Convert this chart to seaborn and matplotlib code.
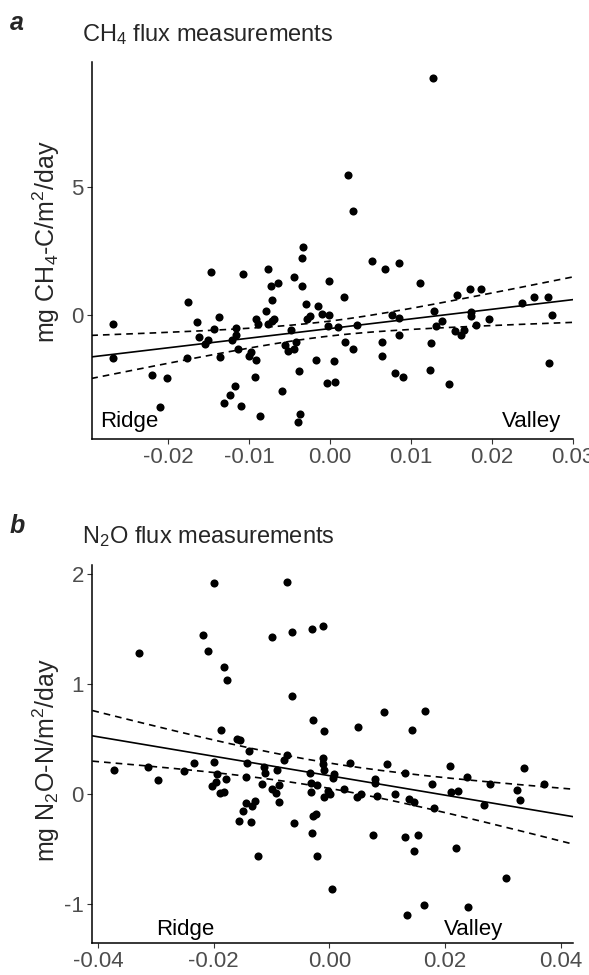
import numpy as np
import pandas as pd
import matplotlib
matplotlib.use("Agg")
import matplotlib.pyplot as plt
import seaborn as sns

# ---------------- data ----------------
ch4_x = [-0.0268, -0.0268, -0.0220, -0.0201, -0.0210, -0.0176, -0.0177, -0.0164, -0.0162, -0.0155,
         -0.0151, -0.0143, -0.0137, -0.0136, -0.0131, -0.0123, -0.0117, -0.0110, -0.0116, -0.0116,
         -0.0121, -0.0114, -0.0100, -0.0098, -0.0091, -0.0093, -0.0087, -0.0091, -0.0089, -0.0079,
         -0.0072, -0.0077, -0.0072, -0.0069, -0.0059, -0.0056, -0.0052, -0.0045, -0.0042, -0.0048,
         -0.0038, -0.0037, -0.0040, -0.0029, -0.0024, -0.0028, -0.0015, -0.0010, -0.0001, -0.0002,
         0.0010, -0.0017, 0.0005, -0.0003, 0.0006, 0.0019, 0.0028, 0.0033, 0.0018, 0.0065,
         0.0065, 0.0077, 0.0086, 0.0086, 0.0081, 0.0090, 0.0125, 0.0124, 0.0129, 0.0131,
         0.0139, 0.0147, 0.0157, 0.0155, 0.0162, 0.0166, 0.0174, 0.0175, 0.0180, 0.0197,
         0.0237, 0.0252, 0.0269, 0.0275, 0.0271, 0.0022, 0.0029, -0.0033, -0.0035, -0.0147,
         -0.0107, -0.0076, -0.0073, -0.0064, -0.0044, -0.0034, -0.0001, 0.0052, 0.0068, 0.0085,
         0.0111, 0.0173, 0.0187, 0.0128]
ch4_y = [-0.32, -1.65, -2.33, -2.44, -3.58, 0.54, -1.67, -0.25, -0.84, -1.10,
         -0.97, -0.54, -0.05, -1.61, -3.40, -3.11, -2.75, -3.54, -0.48, -0.77,
         -0.97, -1.30, -1.58, -1.41, -1.75, -2.40, -3.94, -0.13, -0.35, 0.17,
         0.60, -0.35, -0.22, -0.13, -2.95, -1.16, -1.39, -1.30, -1.04, -0.57,
         -2.18, -3.84, -4.15, 0.43, -0.03, -0.16, 0.36, 0.07, 0.01, -0.42,
         -0.44, -1.74, -1.78, -2.62, -2.60, -1.02, -1.32, -0.36, 0.70, -1.02,
         -1.58, 0.00, -0.12, -0.78, -2.23, -2.39, -1.06, -2.14, 0.16, -0.42,
         -0.23, -2.67, 0.79, -0.60, -0.77, -0.57, 0.13, -0.03, -0.38, -0.14,
         0.48, 0.70, 0.73, 0.03, -1.86, 5.46, 4.06, 2.66, 2.22, 1.68,
         1.60, 1.82, 1.13, 1.25, 1.51, 1.14, 1.33, 2.14, 1.79, 2.05,
         1.25, 1.04, 1.04, 9.25]

n2o_x = [-0.0330, -0.0218, -0.0210, -0.0183, -0.0177, -0.0100, -0.0064, -0.0031, -0.0065, -0.0028,
         -0.0009, 0.0050, 0.0095, 0.0165, 0.0143, -0.0187, -0.0160, -0.0155, -0.0139, -0.0372,
         -0.0314, -0.0296, -0.0251, -0.0234, -0.0199, -0.0195, -0.0179, -0.0197, -0.0203, -0.0190,
         -0.0183, -0.0142, -0.0145, -0.0114, -0.0111, -0.0117, -0.0090, -0.0078, -0.0073, -0.0100,
         -0.0088, -0.0093, -0.0088, -0.0033, -0.0032, -0.0022, -0.0032, -0.0011, -0.0011, -0.0009,
         0.0008, 0.0007, -0.0009, -0.0002, 0.0001, 0.0026, 0.0035, 0.0047, 0.0055, 0.0078,
         0.0079, 0.0082, 0.0099, 0.0113, 0.0130, 0.0138, 0.0146, 0.0177, 0.0181, 0.0209,
         0.0211, 0.0223, 0.0238, 0.0267, 0.0278, 0.0324, 0.0329, 0.0336, 0.0371, -0.0145,
         -0.0129, -0.0134, -0.0150, -0.0156, -0.0135, -0.0123, -0.0062, -0.0031, -0.0028, -0.0023,
         -0.0022, 0.0004, 0.0076, 0.0131, 0.0154, 0.0146, 0.0135, 0.0163, 0.0219, 0.0239,
         0.0305, -0.0200, -0.0073, -0.0011]
n2o_y = [1.28, 1.45, 1.30, 1.16, 1.04, 1.43, 1.47, 1.50, 0.89, 0.67,
         0.57, 0.61, 0.75, 0.76, 0.58, 0.58, 0.50, 0.49, 0.39, 0.22,
         0.25, 0.13, 0.21, 0.28, 0.29, 0.18, 0.14, 0.11, 0.07, 0.01,
         0.02, 0.28, 0.16, 0.25, 0.19, 0.09, 0.22, 0.31, 0.36, 0.05,
         0.08, 0.01, -0.07, 0.19, 0.10, 0.08, 0.02, 0.33, 0.27, 0.22,
         0.18, 0.15, -0.03, 0.03, 0.00, 0.05, 0.28, -0.03, 0.00, 0.14,
         0.10, -0.02, 0.27, 0.00, 0.19, -0.04, -0.07, 0.09, -0.13, 0.26,
         0.02, 0.03, 0.16, -0.10, 0.09, 0.04, -0.05, 0.24, 0.09, -0.08,
         -0.06, -0.11, -0.15, -0.24, -0.25, -0.56, -0.26, -0.35, -0.20, -0.18,
         -0.56, -0.86, -0.37, -0.39, -0.37, -0.52, -1.10, -1.01, -0.49, -1.03,
         -0.76, 1.92, 1.93, 1.53]

# fitted trend lines and confidence half-widths
ch4_fit_x = [-0.0295, 0.0302]
ch4_fit_y = [-1.62, 0.62]
ch4_ci_x = [-0.0295, -0.0005, 0.0302]
ch4_ci_hw = [0.84, 0.29, 0.89]

n2o_fit_x = [-0.0410, 0.0422]
n2o_fit_y = [0.53, -0.205]
n2o_ci_x = [-0.0410, 0.0000, 0.0422]
n2o_ci_hw = [0.23, 0.115, 0.25]

ch4_xticks = [-0.02, -0.01, 0.00, 0.01, 0.02, 0.03]
ch4_xticklabels = ["-0.02", "-0.01", "0.00", "0.01", "0.02", "0.03"]
ch4_yticks = [0, 5]
n2o_xticks = [-0.04, -0.02, 0.00, 0.02, 0.04]
n2o_xticklabels = ["-0.04", "-0.02", "0.00", "0.02", "0.04"]
n2o_yticks = [-1, 0, 1, 2]

ch4_xlim = (-0.02936, 0.0301)
ch4_ylim = (-4.82, 9.88)
n2o_xlim = (-0.0410, 0.0422)
n2o_ylim = (-1.353, 2.083)

# ---------------- style ----------------
sns.set_theme(style="ticks")
plt.rcParams["font.family"] = ["Liberation Sans", "DejaVu Sans"]
plt.rcParams["mathtext.fontset"] = "custom"
plt.rcParams["mathtext.rm"] = "Liberation Sans"
plt.rcParams["mathtext.it"] = "Liberation Sans:italic"
plt.rcParams["mathtext.bf"] = "Liberation Sans:bold"
plt.rcParams["axes.unicode_minus"] = False

W, H = 589, 975
fig = plt.figure(figsize=(W / 100, H / 100), dpi=100)
fig.patch.set_facecolor("white")


def panel(rect, x, y, fit_x, fit_y, ci_x, ci_hw, xlim, ylim, xticks, xticklabels, yticks):
    ax = fig.add_axes(rect)
    df = pd.DataFrame({"x": x, "y": y})
    sns.scatterplot(data=df, x="x", y="y", ax=ax, color="black", s=34,
                    linewidth=0, zorder=3)
    xs = np.linspace(fit_x[0], fit_x[1], 200)
    yhat = np.interp(xs, fit_x, fit_y)
    # confidence band is hyperbolic: hw^2 is quadratic in x
    coef = np.polyfit(ci_x, np.square(ci_hw), 2)
    hw = np.sqrt(np.clip(np.polyval(coef, xs), 0, None))
    sns.lineplot(x=xs, y=yhat, ax=ax, color="black", lw=1.2, zorder=2)
    ax.plot(xs, yhat - hw, color="black", lw=1.2, ls=(0, (4, 3)), zorder=2)
    ax.plot(xs, yhat + hw, color="black", lw=1.2, ls=(0, (4, 3)), zorder=2)
    ax.set_xlim(*xlim)
    ax.set_ylim(*ylim)
    ax.set_xticks(xticks)
    ax.set_xticklabels(xticklabels)
    ax.set_yticks(yticks)
    ax.set_yticklabels([str(v) for v in yticks])
    ax.set_xlabel("")
    ax.set_ylabel("")
    for sp in ["top", "right"]:
        ax.spines[sp].set_visible(False)
    for sp in ["left", "bottom"]:
        ax.spines[sp].set_color("black")
        ax.spines[sp].set_linewidth(1.1)
    ax.tick_params(axis="both", length=3.6, width=0.8, color="#333333",
                   labelcolor="#4D4D4D", labelsize=16, pad=2.5)
    ax.set_facecolor("white")
    return ax


axA = panel([92.4 / W, 1 - 439 / H, (573.4 - 92.4) / W, (439 - 62) / H],
            ch4_x, ch4_y, ch4_fit_x, ch4_fit_y, ch4_ci_x, ch4_ci_hw,
            ch4_xlim, ch4_ylim, ch4_xticks, ch4_xticklabels, ch4_yticks)
axA.text(-0.0284, -4.36, "Ridge", ha="left", va="baseline", fontsize=16, color="black")
axA.text(0.0286, -4.36, "Valley", ha="right", va="baseline", fontsize=16, color="black")

axB = panel([92.4 / W, 1 - 943 / H, (573.4 - 92.4) / W, (943 - 565) / H],
            n2o_x, n2o_y, n2o_fit_x, n2o_fit_y, n2o_ci_x, n2o_ci_hw,
            n2o_xlim, n2o_ylim, n2o_xticks, n2o_xticklabels, n2o_yticks)
axB.text(-0.025, -1.278, "Ridge", ha="center", va="baseline", fontsize=16, color="black")
axB.text(0.025, -1.278, "Valley", ha="center", va="baseline", fontsize=16, color="black")

# titles and panel letters
fig.text(10 / W, 1 - 30 / H, "a", fontsize=18, fontweight="bold", fontstyle="italic",
         va="baseline", ha="left")
fig.text(82 / W, 1 - 40.7 / H, r"CH$_4$ flux measurements", fontsize=17,
         va="baseline", ha="left")
fig.text(10 / W, 1 - 533 / H, "b", fontsize=18, fontweight="bold", fontstyle="italic",
         va="baseline", ha="left")
fig.text(82 / W, 1 - 543.3 / H, r"N$_2$O flux measurements", fontsize=17,
         va="baseline", ha="left")

# y labels
fig.text(46 / W, 1 - 242 / H, r"mg CH$_4$-C/m$^2$/day", rotation=90,
         ha="center", va="center", fontsize=18)
fig.text(46 / W, 1 - 760 / H, r"mg N$_2$O-N/m$^2$/day", rotation=90,
         ha="center", va="center", fontsize=18)

fig.savefig("out.png", dpi=100, facecolor="white")
